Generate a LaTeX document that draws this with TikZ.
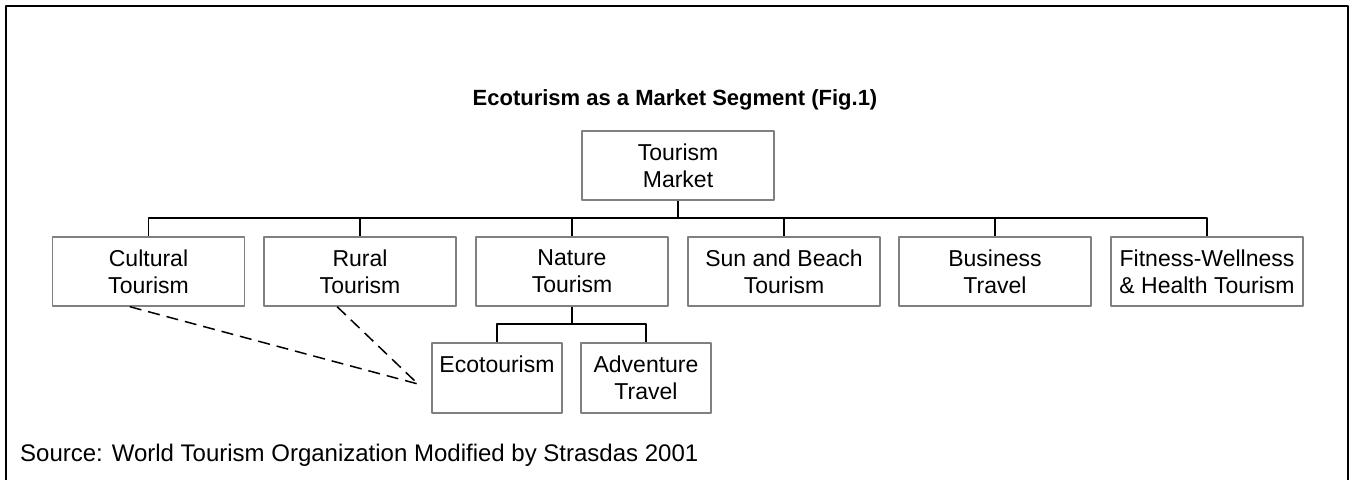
\documentclass[tikz,border=0pt]{standalone}
\usepackage{fontspec}
\setmainfont{Liberation Sans}
\begin{document}
\begin{tikzpicture}[x=1pt,y=-1pt,line join=bevel,
  box/.style={draw=gray,line width=1.4pt,minimum width=192pt,minimum height=69pt,
    inner sep=0pt,align=center,font=\fontsize{23}{27}\selectfont},
  smallbox/.style={box,minimum width=130pt,minimum height=70pt},
  link/.style={black,line width=1.5pt},
  hint/.style={black,line width=1.5pt,dash pattern=on 12pt off 7pt}]
\useasboundingbox (0,0) rectangle (1351,480);
%%
\draw [line width=2.5pt] (6,480) -- (6,6) -- (1348,6) -- (1348,480);
\node (node_title) at (675,100) [font=\bfseries\fontsize{22}{26}\selectfont] {Ecoturism as a Market Segment (Fig.1)};
\node (node_market) at (678,165.5) [box] {Tourism\\Market};
  \node (node_cultural) at (148.5,271.5) [box] {Cultural\\Tourism};
  \node (node_rural) at (360,271.5) [box] {Rural\\Tourism};
  \node (node_nature) at (572,271.5) [box] {Nature\\Tourism};
  \node (node_sun) at (784,271.5) [box] {Sun and Beach\\Tourism};
  \node (node_business) at (995,271.5) [box] {Business\\Travel};
  \node (node_fitness) at (1207,271.5) [box] {Fitness-Wellness\\\& Health Tourism};
  \node (node_eco) at (497,378) [smallbox] {Ecotourism\\~};
  \node (node_adventure) at (646,378) [smallbox] {Adventure\\Travel};
\node (node_source) at (20,461) [anchor=base west,inner sep=0pt,font=\fontsize{24}{28}\selectfont] {Source: World Tourism Organization Modified by Strasdas 2001};
\coordinate (bar_main) at (678,218);
\coordinate (bar_nature) at (572,324);
\coordinate (eco_tip) at (418,384);
  \draw [link] (node_market.south) -- (bar_main) -| (node_cultural.north);
  \draw [link] (bar_main) -| (node_rural.north);
  \draw [link] (bar_main) -| (node_nature.north);
  \draw [link] (bar_main) -| (node_sun.north);
  \draw [link] (bar_main) -| (node_business.north);
  \draw [link] (bar_main) -| (node_fitness.north);
  \draw [link] (node_nature.south) -- (bar_nature) -| (node_eco.north);
  \draw [link] (bar_nature) -| (node_adventure.north);
  \draw [hint] (node_cultural.242) -- (eco_tip);
  \draw [hint] (node_rural.237) -- (eco_tip);
%
\end{tikzpicture}
\end{document}
